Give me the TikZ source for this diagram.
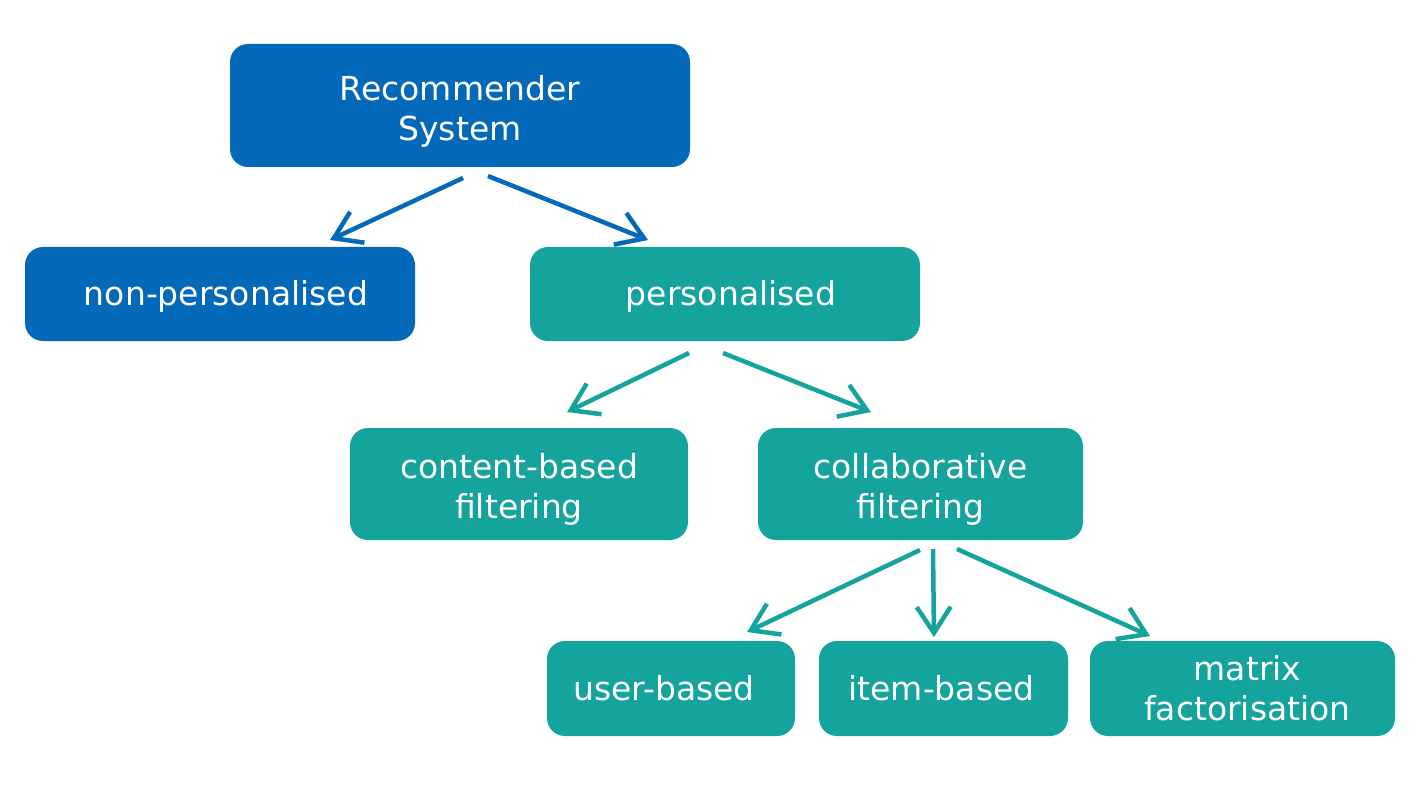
\documentclass[tikz,border=0pt]{standalone}
\usepackage{fontspec}
\setmainfont{DejaVu Sans}
\usetikzlibrary{arrows.meta}
\definecolor{rsblue}{HTML}{0369B8}
\definecolor{rsteal}{HTML}{15A39E}
\tikzset{
  box/.style={rounded corners=18pt, inner sep=0pt},
  bluebox/.style={box, fill=rsblue},
  tealbox/.style={box, fill=rsteal},
  txt/.style={inner sep=0pt, text=white, align=center, font=\fontsize{33}{40}\selectfont},
  conn/.style={line width=4.5pt, -{Straight Barb[length=26pt,width=34pt,line width=4.5pt]}},
}
\begin{document}
\begin{tikzpicture}[x=1pt,y=-1pt]
\useasboundingbox (0,0) rectangle (1416,802);
% boxes
\node[bluebox, minimum width=460pt, minimum height=123pt] (root) at (460,105.5) {};
\node[bluebox, minimum width=390pt, minimum height=94pt] (nonp) at (220,294) {};
\node[tealbox, minimum width=390pt, minimum height=94pt] (pers) at (725,294) {};
\node[tealbox, minimum width=338pt, minimum height=112pt] (cbf) at (519,484) {};
\node[tealbox, minimum width=325pt, minimum height=112pt] (cf) at (920.5,484) {};
\node[tealbox, minimum width=248pt, minimum height=95pt] (ub) at (671,688.5) {};
\node[tealbox, minimum width=249pt, minimum height=95pt] (ib) at (943.5,688.5) {};
\node[tealbox, minimum width=305pt, minimum height=95pt] (mf) at (1242.5,688.5) {};
% texts
\node[txt] (root-t) at ([yshift=-6pt]root.center) {Recommender\\System};
\node[txt] (nonp-t) at ([xshift=6pt,yshift=-2pt]nonp.center) {non-personalised};
\node[txt] (pers-t) at ([xshift=6pt,yshift=-2pt]pers.center) {personalised};
\node[txt] (cbf-t) at ([yshift=-5pt]cbf.center) {content-based\\filtering};
\node[txt] (cf-t) at ([yshift=-5pt]cf.center) {collaborative\\filtering};
\node[txt] (ub-t) at ([xshift=-7pt]ub.center) {user-based};
\node[txt] (ib-t) at ([xshift=-2pt]ib.center) {item-based};
\node[txt] (mf-t) at ([xshift=5pt]mf.center) {matrix\\factorisation};
% connector end points
\coordinate (r1) at (463,178); \coordinate (r1e) at (330,240);
\coordinate (r2) at (488,176); \coordinate (r2e) at (648,240);
\coordinate (p1) at (689,353); \coordinate (p1e) at (567,412);
\coordinate (p2) at (723,353); \coordinate (p2e) at (871,412);
\coordinate (c1) at (920,550); \coordinate (c1e) at (747,632);
\coordinate (c2) at (933,549); \coordinate (c2e) at (934,637);
\coordinate (c3) at (957,549); \coordinate (c3e) at (1150,636);
% connectors
\draw[conn, rsblue] (r1) -- (r1e);
\draw[conn, rsblue] (r2) -- (r2e);
\draw[conn, rsteal] (p1) -- (p1e);
\draw[conn, rsteal] (p2) -- (p2e);
\draw[conn, rsteal] (c1) -- (c1e);
\draw[conn, rsteal] (c2) -- (c2e);
\draw[conn, rsteal] (c3) -- (c3e);
\end{tikzpicture}
\end{document}
